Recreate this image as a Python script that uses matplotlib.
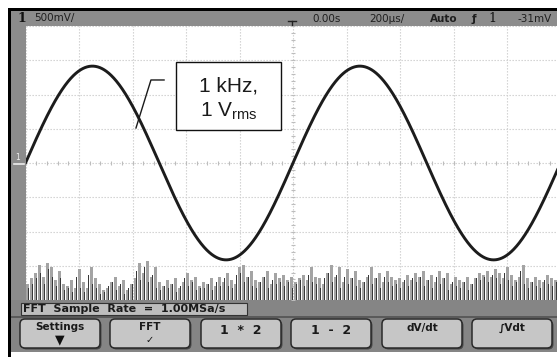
import matplotlib
matplotlib.use('Agg')
import matplotlib.pyplot as plt
import matplotlib.patches as mpatch
import numpy as np

W, H = 557, 360

# status line texts
ch_label = '1'
volts_div_txt = '500mV/'
t_offset_txt = '0.00s'
time_div_txt = '200µs/'
trig_mode_txt = 'Auto'
trig_src_txt = '1'
trig_level_txt = '-31mV'
fft_info = 'FFT  Sample  Rate  =  1.00MSa/s'
softkeys = ['Settings', 'FFT', '1  *  2', '1  -  2', 'dV/dt', '∫Vdt']
softkey_marks = ['▼', '✓', '', '', '', '']

# signal (from the label in the picture)
freq_hz = 1000.0
v_rms = 1.0
time_per_div_us = 200.0
volts_per_div = 0.5

# FFT noise floor, in % of a division, one value per bin
fft_persist = [40, 55, 70, 90, 60, 95, 85, 50, 75, 40,
               35, 50, 30, 80, 45, 30, 85, 55, 40, 25,
               30, 45, 60, 35, 50, 25, 40, 55, 95, 70,
               100, 60, 85, 45, 35, 50, 40, 55, 30, 45,
               70, 50, 60, 35, 45, 40, 55, 35, 60, 45,
               70, 50, 40, 85, 90, 60, 75, 50, 45, 60,
               75, 40, 70, 55, 65, 50, 60, 45, 55, 65,
               50, 85, 60, 55, 40, 70, 90, 60, 85, 45,
               80, 55, 75, 50, 45, 60, 85, 55, 70, 45,
               75, 60, 50, 55, 45, 65, 50, 70, 60, 75,
               50, 65, 45, 75, 55, 70, 40, 60, 50, 45,
               60, 40, 55, 70, 65, 75, 60, 80, 70, 55,
               85, 65, 50, 60, 90, 55, 45, 60, 50, 45,
               65, 55, 50, 60]
fft_live = [30, 40, 55, 70, 40, 80, 60, 35, 55, 25,
            30, 20, 60, 30, 20, 65, 40, 30, 15, 20,
            35, 45, 25, 40, 15, 30, 40, 75, 50, 85,
            45, 65, 30, 25, 35, 30, 40, 20, 35, 55,
            35, 45, 25, 30, 30, 40, 25, 45, 35, 55,
            35, 30, 65, 70, 45, 60, 35, 30, 45, 60,
            30, 50, 40, 45, 35, 45, 30, 40, 50, 35,
            65, 45, 40, 30, 55, 70, 45, 65, 30, 60,
            40, 55, 35, 30, 45, 65, 40, 55, 30, 60,
            45, 35, 40, 30, 50, 35, 55, 45, 60, 35,
            50, 30, 60, 40, 55, 25, 45, 35, 30, 45,
            25, 40, 55, 50, 60, 45, 65, 55, 40, 70,
            50, 35, 45, 75, 40, 30, 45, 35, 30, 50,
            40, 35, 45, 25]

plt.rcParams['mathtext.default'] = 'regular'

fig = plt.figure(figsize=(W / 100, H / 100), dpi=100, facecolor='w')

# screen chrome, in pixel coordinates
bg = fig.add_axes([0, 0, 1, 1], zorder=0)
bg.set_xlim(0, W)
bg.set_ylim(H, 0)
bg.axis('off')

grey = '#8c8c8c'


def box(x0, y0, x1, y1, color, z=1, **kw):
    bg.add_patch(mpatch.Rectangle((x0, y0), x1 - x0, y1 - y0,
                                  facecolor=color, edgecolor='none',
                                  zorder=z, **kw))


box(8, 8, W, 11, 'k', 3)        # black frame top
box(8, 8, 11, 357, 'k', 3)      # black frame left
box(11, 11, W, 26, grey)        # status line
box(11, 26, 25.5, 300, grey)    # channel marker strip
box(11, 300, W, 352, '#858585')  # softkey area
box(11, 316, W, 318, '#5a5a5a', 2)

# status line text
st = dict(fontsize=7.5, color='#1e1e1e', va='center', zorder=4)
bg.text(22, 18, ch_label, fontsize=9, family='DejaVu Serif',
        fontweight='bold', color='#111', ha='center', va='center', zorder=4)
bg.text(34, 18.5, volts_div_txt, ha='left', **st)
bg.text(312, 18.5, t_offset_txt, ha='left', **st)
bg.text(369, 18.5, time_div_txt, ha='left', **st)
bg.text(430, 18.5, trig_mode_txt, ha='left', fontweight='bold', **st)
bg.text(474, 18.5, 'ƒ', ha='center', fontweight='bold', **st)
bg.text(492, 18, trig_src_txt, fontsize=9, family='DejaVu Serif',
        color='#111', ha='center', va='center', zorder=4)
bg.text(517, 18.5, trig_level_txt, ha='left', **st)
bg.plot([288, 296], [20.5, 20.5], color='#222', lw=1, zorder=4)
bg.plot([292, 292], [20.5, 26], color='#222', lw=1, zorder=4)

# ground marker of channel 1
bg.text(17.5, 158, ch_label, fontsize=5.5, color='#eeeeee',
        ha='center', va='center', zorder=4)
bg.plot([14, 24], [164, 164], color='#eeeeee', lw=1.2, zorder=4)

# FFT info line
bg.add_patch(mpatch.Rectangle((21, 303), 226, 12, facecolor='#bdbdbd',
                              edgecolor='#333', lw=0.8, zorder=3))
bg.text(23, 309.5, fft_info, fontsize=8, fontweight='bold', color='#1a1a1a',
        ha='left', va='center', zorder=4)

# softkeys
key_x = [20, 110, 201, 291, 382, 472]
for x0, lab, mark in zip(key_x, softkeys, softkey_marks):
    bg.add_patch(mpatch.FancyBboxPatch((x0 + 1.5, 320.5), 80, 29,
                                       boxstyle='round,pad=0,rounding_size=5',
                                       facecolor='#4a4a4a', edgecolor='none',
                                       zorder=3))
    bg.add_patch(mpatch.FancyBboxPatch((x0, 319), 80, 29,
                                       boxstyle='round,pad=0,rounding_size=5',
                                       facecolor='#c6c6c6', edgecolor='#2a2a2a',
                                       lw=1.1, zorder=3))
    if mark:
        bg.text(x0 + 40, 327.5, lab, fontsize=7.5, fontweight='bold',
                color='#1a1a1a', ha='center', va='center', zorder=4)
        bg.text(x0 + 40, 340, mark, fontsize=9 if mark == '▼' else 7,
                color='#111', ha='center', va='center', zorder=4)
    elif '/' in lab or '∫' in lab:
        bg.text(x0 + 40, 328, lab, fontsize=7.5, fontweight='bold',
                color='#1a1a1a', ha='center', va='center', zorder=4)
    else:
        bg.text(x0 + 40, 331, lab, fontsize=9, fontweight='bold',
                color='#1a1a1a', ha='center', va='center', zorder=4)

# waveform area: 10 x 8 divisions
px_div_x, px_div_y = 53.5, 34.25
left, top = 25.5, 26.0
ax = fig.add_axes([left / W, 1 - (top + 8 * px_div_y) / H,
                   10 * px_div_x / W, 8 * px_div_y / H], zorder=1)
ax.set_facecolor('white')
ax.set_xlim(-5 * time_per_div_us, 5 * time_per_div_us)
ax.set_ylim(-4 * volts_per_div, 4 * volts_per_div)
ax.set_xticks(np.arange(-5, 6) * time_per_div_us)
ax.set_yticks(np.arange(-4, 5) * volts_per_div)
ax.tick_params(length=0, labelbottom=False, labelleft=False)
for s in ax.spines.values():
    s.set_visible(False)
ax.grid(True, color='#cdcdcd', linestyle=(0, (1.2, 1.5)), lw=0.8)
minor_t = np.arange(-25, 26) * time_per_div_us / 5
minor_v = np.arange(-20, 21) * volts_per_div / 5
ax.plot(minor_t, np.zeros_like(minor_t), ls='none', marker='|', ms=3.5,
        mew=0.8, color='#bdbdbd')
ax.plot(np.zeros_like(minor_v), minor_v, ls='none', marker='_', ms=3.5,
        mew=0.8, color='#bdbdbd')

# FFT noise floor at the bottom of the screen
fx = fig.add_axes(ax.get_position(), zorder=2)
fx.patch.set_alpha(0)
fx.axis('off')
n_bins = len(fft_persist)
fx.set_xlim(-0.5, 10 * px_div_x / 4 - 0.5)
fx.set_ylim(0, 700)
bins = np.arange(n_bins)
fx.bar(bins, fft_persist, width=0.6, color='#a4a4a4', linewidth=0)
fx.bar(bins + 0.3, fft_live, width=0.35, color='#383838', linewidth=0)

# the sine trace
t_us = np.linspace(-1000, 1000, 2000)
v = np.sqrt(2) * v_rms * np.sin(2 * np.pi * freq_hz * t_us * 1e-6)
ov = fig.add_axes(ax.get_position(), zorder=3)
ov.patch.set_alpha(0)
ov.axis('off')
ov.set_xlim(ax.get_xlim())
ov.set_ylim(ax.get_ylim())
ov.plot(t_us, v, color='#1c1c1c', lw=2.1, solid_capstyle='round')

# annotation
ov.add_patch(mpatch.Rectangle((-437, 0.482), 392, 0.997, facecolor='white',
                              edgecolor='#111', lw=1.0, zorder=5))
ov.text(-241, 1.125, '1 kHz,', family='Liberation Sans', fontsize=15,
        color='#1a1a1a', ha='center', va='center', zorder=6)
ov.text(-241, 0.76, '1 V$_{rms}$', family='Liberation Sans', fontsize=15,
        color='#1a1a1a', ha='center', va='center', zorder=6)
ov.plot([-587, -531, -482], [0.511, 1.212, 1.212], color='#1a1a1a', lw=1.0,
        zorder=5)

fig.savefig('out.png', dpi=100, facecolor='w')
